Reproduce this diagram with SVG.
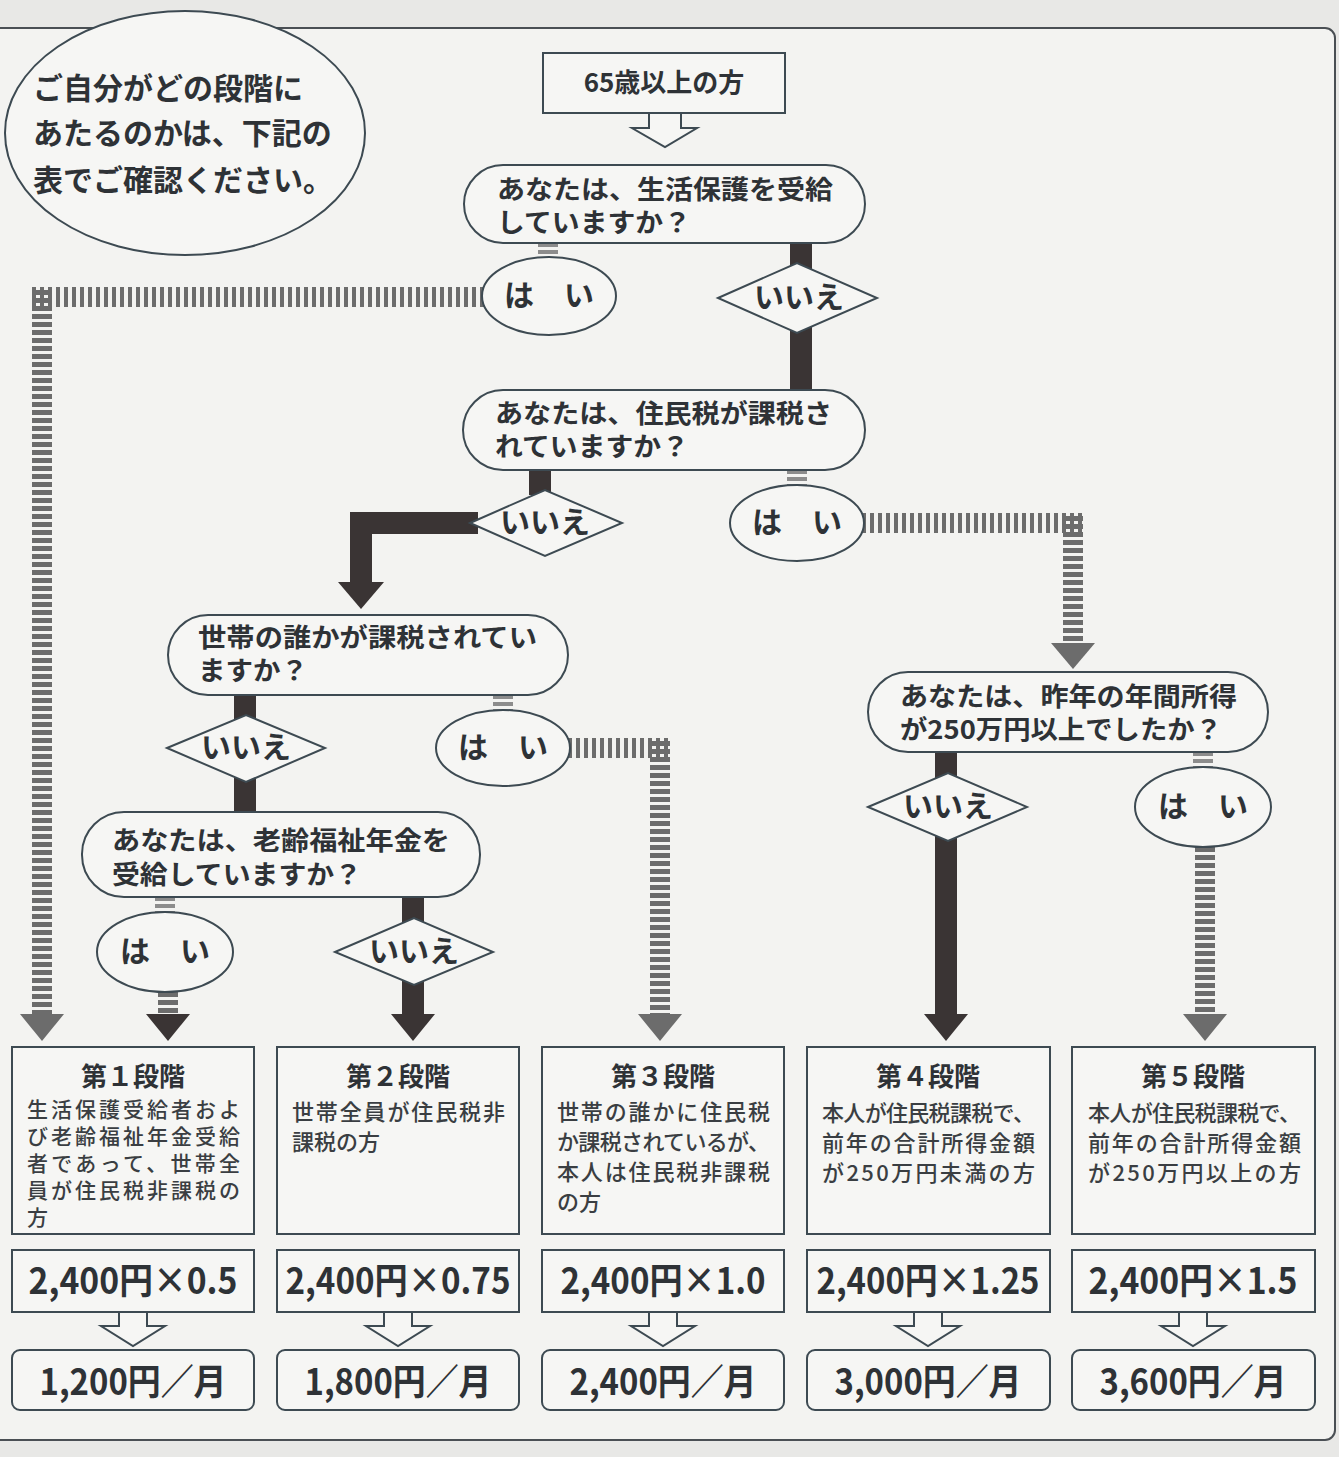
<svg xmlns="http://www.w3.org/2000/svg" width="1339" height="1457" viewBox="0 0 1339 1457">
<style>
text{font-family:"Noto Sans CJK JP","Noto Sans",sans-serif;fill:#2e3236}
.q{font-size:26px;font-weight:700}
.lab{font-size:30px;font-weight:700;text-anchor:middle}
.shape{fill:#f6f6f4;stroke:#3d4a52;stroke-width:2}
.bar{stroke:#3a3434;stroke-width:22;fill:none}
.dotv{stroke:#6c6c6c;stroke-width:20;stroke-dasharray:5 3;fill:none}
.doth{stroke:#6c6c6c;stroke-width:20;stroke-dasharray:4 4;fill:none}
.stub{stroke:#8c8c8c;stroke-width:20;stroke-dasharray:4 3;fill:none}
.ahd{fill:#3a3434}
.ahg{fill:#6c6c6c}
.ttl{font-size:26px;font-weight:700;text-anchor:middle}
.desc{font-size:22px;font-weight:500;fill:#3a3e42}
.desc1{font-size:21px;font-weight:500;fill:#3a3e42}
.fml{font-size:36px;font-weight:700;text-anchor:middle}
.hol{fill:#f6f6f4;stroke:#3d4a52;stroke-width:2}
</style>
<rect x="0" y="0" width="1339" height="1457" fill="#e8e8e6"/>
<rect x="-10" y="28" width="1345" height="1412" rx="10" fill="#f3f3f1" stroke="#4a4f54" stroke-width="2"/>

<g id="connectors">
  <polygon class="hol" points="649,113 681,113 681,128 697,128 665,147 632,128 649,128"/>
  <line class="bar" x1="801" y1="243" x2="801" y2="391"/>
  <line class="stub" x1="548" y1="243" x2="548" y2="257"/>
  <line class="doth" x1="484" y1="297" x2="32" y2="297"/>
  <line class="dotv" x1="42" y1="290" x2="42" y2="1016"/>
  <polygon class="ahg" points="20,1014 64,1014 42,1041"/>
  <line class="bar" x1="540" y1="470" x2="540" y2="495"/>
  <path class="bar" d="M478,523 H361 V584" stroke-linejoin="miter"/>
  <polygon class="ahd" points="338,582 384,582 361,609"/>
  <line class="stub" x1="797" y1="470" x2="797" y2="486"/>
  <line class="doth" x1="862" y1="523" x2="1083" y2="523"/>
  <line class="dotv" x1="1073" y1="516" x2="1073" y2="645"/>
  <polygon class="ahg" points="1051,643 1095,643 1073,669"/>
  <line class="bar" x1="245" y1="695" x2="245" y2="813"/>
  <line class="stub" x1="503" y1="695" x2="503" y2="711"/>
  <line class="doth" x1="568" y1="748" x2="670" y2="748"/>
  <line class="dotv" x1="660" y1="741" x2="660" y2="1016"/>
  <polygon class="ahg" points="638,1014 682,1014 660,1041"/>
  <line class="stub" x1="165" y1="897" x2="165" y2="913"/>
  <line class="dotv" x1="168" y1="992" x2="168" y2="1016"/>
  <polygon class="ahd" points="146,1014 190,1014 168,1041"/>
  <line class="bar" x1="413" y1="897" x2="413" y2="1016"/>
  <polygon class="ahd" points="391,1014 435,1014 413,1041"/>
  <line class="bar" x1="946" y1="752" x2="946" y2="1016"/>
  <polygon class="ahd" points="924,1014 968,1014 946,1041"/>
  <line class="stub" x1="1203" y1="752" x2="1203" y2="768"/>
  <line class="dotv" x1="1205" y1="847" x2="1205" y2="1016"/>
  <polygon class="ahg" points="1183,1014 1227,1014 1205,1041"/>
  <polygon class="hol" points="119,1312 147,1312 147,1326 165,1326 133,1346 101,1326 119,1326"/>
  <polygon class="hol" points="384,1312 412,1312 412,1326 430,1326 398,1346 366,1326 384,1326"/>
  <polygon class="hol" points="649,1312 677,1312 677,1326 695,1326 663,1346 631,1326 649,1326"/>
  <polygon class="hol" points="914,1312 942,1312 942,1326 960,1326 928,1346 896,1326 914,1326"/>
  <polygon class="hol" points="1179,1312 1207,1312 1207,1326 1225,1326 1193,1346 1161,1326 1179,1326"/>
</g>

<g id="note">
  <ellipse class="shape" cx="185" cy="133" rx="180" ry="122"/>
  <text x="33" y="99" style="font-size:30px;font-weight:700">ご自分がどの段階に</text>
  <text x="33" y="144" style="font-size:30px;font-weight:700">あたるのかは、下記の</text>
  <text x="33" y="191" style="font-size:30px;font-weight:700">表でご確認ください。</text>
</g>

<g id="start">
  <rect class="shape" x="543" y="53" width="242" height="60"/>
  <text x="664" y="92" style="font-size:26px;font-weight:700;text-anchor:middle">65歳以上の方</text>
</g>

<g id="q1">
  <rect class="shape" x="464" y="165" width="401" height="78" rx="39"/>
  <text class="q" x="497" y="199" textLength="336" lengthAdjust="spacingAndGlyphs">あなたは、生活保護を受給</text>
  <text class="q" x="497" y="232" textLength="194" lengthAdjust="spacingAndGlyphs">していますか？</text>
</g>
<g id="yes1">
  <ellipse class="shape" cx="549" cy="296" rx="67" ry="39"/>
  <text class="lab" x="549" y="306">は　い</text>
</g>
<g id="no1">
  <polygon class="shape" points="718,298 797,263 877,298 797,333"/>
  <text class="lab" x="799" y="308">いいえ</text>
</g>

<g id="q2">
  <rect class="shape" x="463" y="390" width="402" height="80" rx="40"/>
  <text class="q" x="495" y="423" textLength="337" lengthAdjust="spacingAndGlyphs">あなたは、住民税が課税さ</text>
  <text class="q" x="495" y="456" textLength="194" lengthAdjust="spacingAndGlyphs">れていますか？</text>
</g>
<g id="no2">
  <polygon class="shape" points="470,523 545,490 622,523 545,556"/>
  <text class="lab" x="545" y="533">いいえ</text>
</g>
<g id="yes2">
  <ellipse class="shape" cx="797" cy="523" rx="67" ry="38"/>
  <text class="lab" x="797" y="533">は　い</text>
</g>

<g id="q3">
  <rect class="shape" x="168" y="615" width="400" height="80" rx="40"/>
  <text class="q" x="198" y="647" textLength="339" lengthAdjust="spacingAndGlyphs">世帯の誰かが課税されてい</text>
  <text class="q" x="198" y="680" textLength="110" lengthAdjust="spacingAndGlyphs">ますか？</text>
</g>
<g id="no3">
  <polygon class="shape" points="167,748 246,715 325,748 246,782"/>
  <text class="lab" x="246" y="758">いいえ</text>
</g>
<g id="yes3">
  <ellipse class="shape" cx="503" cy="748" rx="67" ry="38"/>
  <text class="lab" x="503" y="758">は　い</text>
</g>

<g id="q4">
  <rect class="shape" x="82" y="812" width="398" height="85" rx="42"/>
  <text class="q" x="112" y="850" textLength="338" lengthAdjust="spacingAndGlyphs">あなたは、老齢福祉年金を</text>
  <text class="q" x="112" y="884" textLength="250" lengthAdjust="spacingAndGlyphs">受給していますか？</text>
</g>
<g id="yes4">
  <ellipse class="shape" cx="165" cy="952" rx="68" ry="40"/>
  <text class="lab" x="165" y="962">は　い</text>
</g>
<g id="no4">
  <polygon class="shape" points="335,952 414,918 493,952 414,985"/>
  <text class="lab" x="414" y="962">いいえ</text>
</g>

<g id="q5">
  <rect class="shape" x="868" y="672" width="400" height="80" rx="40"/>
  <text class="q" x="900" y="706" textLength="337" lengthAdjust="spacingAndGlyphs">あなたは、昨年の年間所得</text>
  <text class="q" x="900" y="739" textLength="322" lengthAdjust="spacingAndGlyphs">が250万円以上でしたか？</text>
</g>
<g id="no5">
  <polygon class="shape" points="868,807 948,773 1027,807 948,841"/>
  <text class="lab" x="948" y="817">いいえ</text>
</g>
<g id="yes5">
  <ellipse class="shape" cx="1203" cy="807" rx="68" ry="40"/>
  <text class="lab" x="1203" y="817">は　い</text>
</g>

<g id="stage1">
  <rect class="shape" x="12" y="1047" width="242" height="187"/>
  <text class="ttl" x="133" y="1086">第１段階</text>
  <text class="desc1" x="27" y="1117" textLength="213" lengthAdjust="spacing">生活保護受給者およ</text>
  <text class="desc1" x="27" y="1144" textLength="213" lengthAdjust="spacing">び老齢福祉年金受給</text>
  <text class="desc1" x="27" y="1171" textLength="213" lengthAdjust="spacing">者であって、世帯全</text>
  <text class="desc1" x="27" y="1198" textLength="213" lengthAdjust="spacing">員が住民税非課税の</text>
  <text class="desc1" x="27" y="1225">方</text>
  <rect class="shape" x="12" y="1250" width="242" height="62"/>
  <text class="fml" x="133" y="1294" textLength="209" lengthAdjust="spacingAndGlyphs">2,400円×0.5</text>
  <rect class="shape" x="12" y="1350" width="242" height="60" rx="8"/>
  <text class="fml" x="133" y="1395" textLength="187" lengthAdjust="spacingAndGlyphs">1,200円／月</text>
</g>

<g id="stage2">
  <rect class="shape" x="277" y="1047" width="242" height="187"/>
  <text class="ttl" x="398" y="1086">第２段階</text>
  <text class="desc" x="292" y="1120" textLength="213" lengthAdjust="spacing">世帯全員が住民税非</text>
  <text class="desc" x="292" y="1150">課税の方</text>
  <rect class="shape" x="277" y="1250" width="242" height="62"/>
  <text class="fml" x="398" y="1294" textLength="225" lengthAdjust="spacingAndGlyphs">2,400円×0.75</text>
  <rect class="shape" x="277" y="1350" width="242" height="60" rx="8"/>
  <text class="fml" x="398" y="1395" textLength="187" lengthAdjust="spacingAndGlyphs">1,800円／月</text>
</g>

<g id="stage3">
  <rect class="shape" x="542" y="1047" width="242" height="187"/>
  <text class="ttl" x="663" y="1086">第３段階</text>
  <text class="desc" x="557" y="1120" textLength="213" lengthAdjust="spacing">世帯の誰かに住民税</text>
  <text class="desc" x="557" y="1150" textLength="213" lengthAdjust="spacing">か課税されているが、</text>
  <text class="desc" x="557" y="1180" textLength="213" lengthAdjust="spacing">本人は住民税非課税</text>
  <text class="desc" x="557" y="1210">の方</text>
  <rect class="shape" x="542" y="1250" width="242" height="62"/>
  <text class="fml" x="663" y="1294" textLength="205" lengthAdjust="spacingAndGlyphs">2,400円×1.0</text>
  <rect class="shape" x="542" y="1350" width="242" height="60" rx="8"/>
  <text class="fml" x="663" y="1395" textLength="187" lengthAdjust="spacingAndGlyphs">2,400円／月</text>
</g>

<g id="stage4">
  <rect class="shape" x="807" y="1047" width="243" height="187"/>
  <text class="ttl" x="928" y="1086">第４段階</text>
  <text class="desc" x="822" y="1121" textLength="213" lengthAdjust="spacing">本人が住民税課税で、</text>
  <text class="desc" x="822" y="1151" textLength="213" lengthAdjust="spacing">前年の合計所得金額</text>
  <text class="desc" x="822" y="1181" textLength="213" lengthAdjust="spacing">が250万円未満の方</text>
  <rect class="shape" x="807" y="1250" width="243" height="62"/>
  <text class="fml" x="928" y="1294" textLength="223" lengthAdjust="spacingAndGlyphs">2,400円×1.25</text>
  <rect class="shape" x="807" y="1350" width="243" height="60" rx="8"/>
  <text class="fml" x="928" y="1395" textLength="187" lengthAdjust="spacingAndGlyphs">3,000円／月</text>
</g>

<g id="stage5">
  <rect class="shape" x="1072" y="1047" width="243" height="187"/>
  <text class="ttl" x="1193" y="1086">第５段階</text>
  <text class="desc" x="1088" y="1121" textLength="213" lengthAdjust="spacing">本人が住民税課税で、</text>
  <text class="desc" x="1088" y="1151" textLength="213" lengthAdjust="spacing">前年の合計所得金額</text>
  <text class="desc" x="1088" y="1181" textLength="213" lengthAdjust="spacing">が250万円以上の方</text>
  <rect class="shape" x="1072" y="1250" width="243" height="62"/>
  <text class="fml" x="1193" y="1294" textLength="209" lengthAdjust="spacingAndGlyphs">2,400円×1.5</text>
  <rect class="shape" x="1072" y="1350" width="243" height="60" rx="8"/>
  <text class="fml" x="1193" y="1395" textLength="187" lengthAdjust="spacingAndGlyphs">3,600円／月</text>
</g>
</svg>
